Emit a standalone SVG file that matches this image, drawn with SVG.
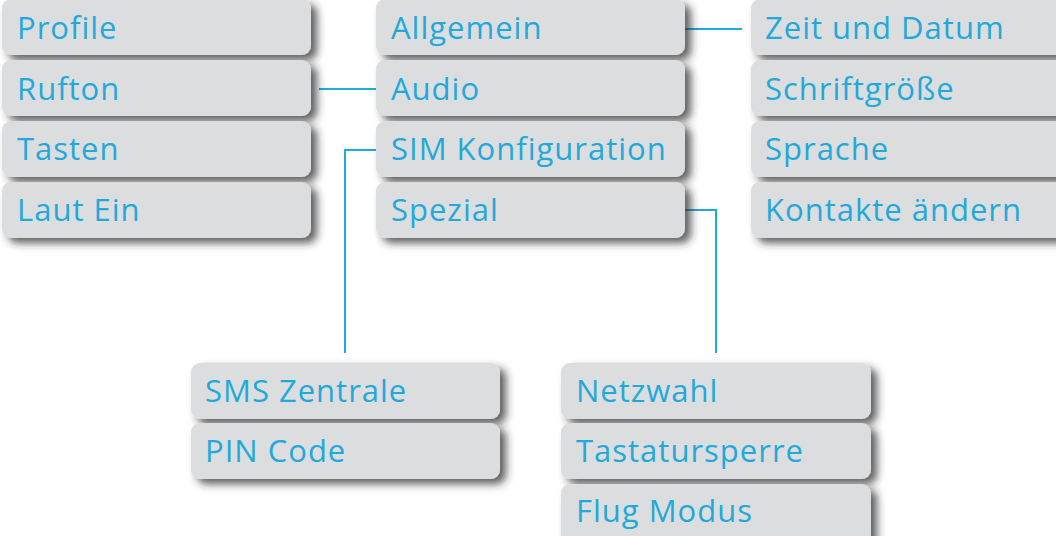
<svg xmlns="http://www.w3.org/2000/svg" width="1056" height="536" viewBox="0 0 1056 536">
<style>
.b{fill:#dcdddf;filter:url(#sh)}
.t{font-family:"Open Sans","Noto Sans",sans-serif;font-size:31px;fill:#1fa9dc;letter-spacing:1px}
.c{fill:none;stroke:#1fa9dc;stroke-width:2}
</style>
<defs>
<filter id="sh" x="-10%" y="-30%" width="130%" height="180%">
<feDropShadow dx="6" dy="5" stdDeviation="4" flood-color="#2a2a2a" flood-opacity="0.75"/>
</filter>
</defs>
<rect width="1056" height="536" fill="#ffffff"/>
<g id="connectors">
<line class="c" x1="531" y1="-2" x2="531" y2="4"/>
<line class="c" x1="319" y1="89" x2="382" y2="89"/>
<line class="c" x1="680" y1="29" x2="742" y2="29"/>
<polyline class="c" points="380,150 345,150 345,353"/>
<polyline class="c" points="680,210 716,210 716,353"/>
</g>
<g id="n-profile"><rect class="b" x="2" y="-1" width="309" height="56" rx="9"/><text class="t" x="17" y="39">Profile</text></g>
<g id="n-rufton"><rect class="b" x="2" y="60" width="309" height="56" rx="9"/><text class="t" x="17" y="100">Rufton</text></g>
<g id="n-tasten"><rect class="b" x="2" y="121" width="309" height="56" rx="9"/><text class="t" x="17" y="160">Tasten</text></g>
<g id="n-lautein"><rect class="b" x="2" y="182" width="309" height="56" rx="9"/><text class="t" x="17" y="221">Laut Ein</text></g>
<g id="n-allgemein"><rect class="b" x="376" y="-1" width="309" height="56" rx="9"/><text class="t" x="391" y="39">Allgemein</text></g>
<g id="n-audio"><rect class="b" x="376" y="60" width="309" height="56" rx="9"/><text class="t" x="391" y="100">Audio</text></g>
<g id="n-sim"><rect class="b" x="376" y="121" width="309" height="56" rx="9"/><text class="t" x="391" y="160">SIM Konfiguration</text></g>
<g id="n-spezial"><rect class="b" x="376" y="182" width="309" height="56" rx="9"/><text class="t" x="391" y="221">Spezial</text></g>
<g id="n-zeit"><rect class="b" x="751" y="-1" width="320" height="56" rx="9"/><text class="t" x="765" y="39">Zeit und Datum</text></g>
<g id="n-schrift"><rect class="b" x="751" y="60" width="320" height="56" rx="9"/><text class="t" x="765" y="100">Schriftgröße</text></g>
<g id="n-sprache"><rect class="b" x="751" y="121" width="320" height="56" rx="9"/><text class="t" x="765" y="160">Sprache</text></g>
<g id="n-kontakte"><rect class="b" x="751" y="182" width="320" height="56" rx="9"/><text class="t" x="765" y="221">Kontakte ändern</text></g>
<g id="n-sms"><rect class="b" x="191" y="363" width="309" height="56" rx="9"/><text class="t" x="205" y="402">SMS Zentrale</text></g>
<g id="n-pin"><rect class="b" x="191" y="423" width="309" height="56" rx="9"/><text class="t" x="205" y="462">PIN Code</text></g>
<g id="n-netz"><rect class="b" x="561" y="363" width="310" height="56" rx="9"/><text class="t" x="576" y="402">Netzwahl</text></g>
<g id="n-tast"><rect class="b" x="561" y="423" width="310" height="56" rx="9"/><text class="t" x="576" y="462">Tastatursperre</text></g>
<g id="n-flug"><rect class="b" x="561" y="484" width="310" height="60" rx="9"/><text class="t" x="576" y="522">Flug Modus</text></g>
</svg>
